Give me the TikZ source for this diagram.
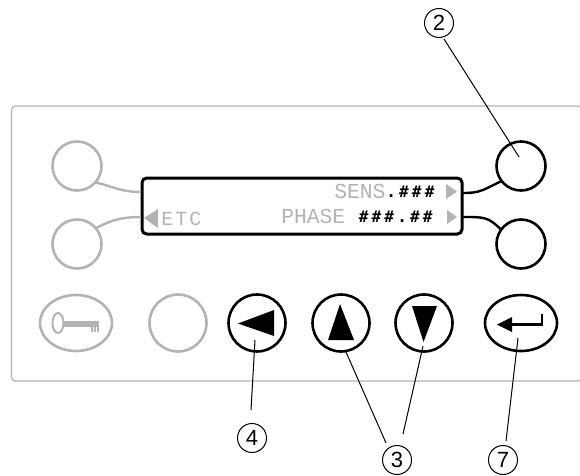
\documentclass[tikz,border=0pt]{standalone}
\usepackage{fontspec}
\setmainfont{Liberation Sans}
\newfontfamily\lcdg{Liberation Mono}
\newfontfamily\lcdw[LetterSpace=10]{Liberation Mono}
\newfontfamily\lcdb[LetterSpace=20]{DejaVu Sans Mono Bold}
\definecolor{pgray}{HTML}{B3B3B3}
\tikzset{
  px/.style={line width=#1*.75pt},
  panel/.style={draw=pgray,px=1.3,rounded corners=3pt},
  roundbtn/.style={circle,draw,px=2.6,minimum size=#1*.75pt,inner sep=0pt,outer sep=0pt},
  ovalbtn/.style={ellipse,draw,px=2.6,minimum width=72*.75pt,minimum height=56*.75pt,inner sep=0pt,outer sep=0pt},
  off/.style={draw=pgray},
  on/.style={draw=black},
  display/.style={rectangle,draw=black,px=3,rounded corners=3.5pt,minimum width=320*.75pt,minimum height=56*.75pt,inner sep=0pt,outer sep=0pt},
  wiregray/.style={draw=pgray,px=2.4},
  wireblack/.style={draw=black,px=2.4},
  leader/.style={draw=black,px=1},
  callout/.style={circle,draw=black,px=1,minimum size=29*.75pt,inner sep=0pt,font=\fontsize{16.5}{16.5}\selectfont},
  lcdtext/.style={inner sep=0pt,anchor=base west}
}
\usetikzlibrary{shapes.geometric}
\begin{document}
\begin{tikzpicture}[x=.75pt,y=-.75pt]
\useasboundingbox (0,0) rectangle (580,475);
\begin{scope}
\clip (0,0) rectangle (580,475);
\draw[panel] (11.5,106) rectangle (582,381);
\end{scope}
% display and soft keys
\node[display] (disp) at (302,206) {};
\node[roundbtn=49,off] (tl) at (77,166) {};
\node[roundbtn=49,off] (bl) at (77,244) {};
\node[roundbtn=49,on] (tr) at (521,166) {};
\node[roundbtn=49,on] (br) at (521,244) {};
\coordinate (dtl) at (141,192);
\coordinate (dbl) at (141,217);
\coordinate (dtr) at (463,193);
\coordinate (dbr) at (463,217);
\draw[wiregray] (tl.-42) .. controls (112,186) and (120,192) .. (dtl);
\draw[wiregray] (bl.40) .. controls (108,222) and (118,217) .. (dbl);
\draw[wireblack] (dtr) .. controls (482,193) and (484,189) .. (tr.-142);
\draw[wireblack] (dbr) .. controls (485,217) and (488,217) .. (br.144);
% display texts
\node[lcdtext,text=pgray,font=\lcdg\fontsize{16}{16}\selectfont] (tsens) at (334,198) {SENS};
\node[lcdtext,text=black,font=\lcdb\fontsize{12}{16}\selectfont] (tv1) at (386,197.5) {.\#\#\#};
\node[lcdtext,text=pgray,font=\lcdg\fontsize{16}{16}\selectfont] (tphase) at (281,223) {PHASE};
\node[lcdtext,text=black,font=\lcdb\fontsize{12}{16}\selectfont] (tv2) at (358.5,222.5) {\#\#\#.\#\#};
\node[lcdtext,text=pgray,font=\lcdw\fontsize{15}{16}\selectfont] (tetc) at (161,225) {ETC};
\fill[pgray] (144,218) -- (158,209) -- (158,228) -- cycle;
\fill[pgray] (446,184) -- (457,191.5) -- (446,199) -- cycle;
\fill[pgray] (447,210) -- (457,217) -- (447,224) -- cycle;
% bottom row
\node[ovalbtn,off] (key) at (76,323) {};
\node[roundbtn=57,off] (blank) at (178,323) {};
\node[roundbtn=57,on] (left) at (257,323) {};
\node[roundbtn=57,on] (up) at (341,323) {};
\node[roundbtn=57,on] (down) at (424,323) {};
\node[ovalbtn,on] (enter) at (521,323) {};
% key glyph
\draw[pgray,px=2] (58,323) ellipse (5.5 and 10);
\fill[pgray] (63,320.7) rectangle (99,326.5);
\fill[pgray] (91,326) rectangle (93,332);
\fill[pgray] (94,326) rectangle (95.5,332);
\fill[pgray] (97,326) rectangle (99,332);
% arrow glyphs
\fill (238,323.5) -- (274,310) -- (274,336) -- cycle;
\fill (340,304) -- (354,340) -- (328,340) -- cycle;
\fill (412,306) -- (437,306) -- (423.5,342) -- cycle;
\fill (497,324.5) -- (512,317) -- (512,332) -- cycle;
\draw[black,px=2.6] (510,324.5) -- (542,324.5) -- (542,314);
% callouts
\node[callout] (n2) at (439,23) {2};
\node[callout] (n4) at (252,438) {4};
\node[callout] (n3) at (397,460) {3};
\node[callout] (n7) at (503,460) {7};
\coordinate (e2) at (519,157);
\coordinate (e4) at (255,340);
\coordinate (e3a) at (346,352);
\coordinate (e3b) at (423,346);
\coordinate (e7) at (518,338);
\coordinate (s4) at (251,410);
\coordinate (s3a) at (386,443);
\coordinate (s3b) at (403,434);
\coordinate (s7) at (506,441);
\coordinate (s2) at (444,39);
\draw[leader] (s2) -- (e2);
\draw[leader] (s4) -- (e4);
\draw[leader] (s3a) -- (e3a);
\draw[leader] (s3b) -- (e3b);
\draw[leader] (s7) -- (e7);
\end{tikzpicture}
\end{document}
